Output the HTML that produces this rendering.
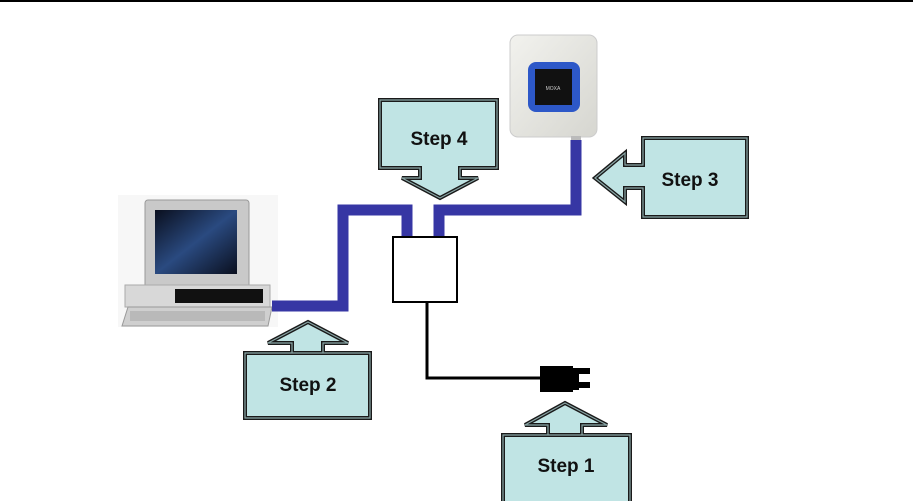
<!DOCTYPE html>
<html><head><meta charset="utf-8"><style>
body{margin:0;background:#fff;}
svg{display:block;}
text{font-family:"Liberation Sans",sans-serif;font-weight:bold;font-size:19px;fill:#111;}
</style></head><body>
<svg width="913" height="501" viewBox="0 0 913 501" xmlns="http://www.w3.org/2000/svg">
<defs>
<linearGradient id="scr" x1="0" y1="0" x2="1" y2="1">
<stop offset="0" stop-color="#0a0f1e"/><stop offset="0.5" stop-color="#2a4a80"/><stop offset="1" stop-color="#0a0f1e"/>
</linearGradient>
<linearGradient id="mx" x1="0" y1="0" x2="1" y2="1">
<stop offset="0" stop-color="#f2f2ee"/><stop offset="1" stop-color="#d6d6d0"/>
</linearGradient>
</defs>
<rect width="913" height="501" fill="#fff"/>
<line x1="0" y1="1" x2="913" y2="1" stroke="#000" stroke-width="2"/>

<!-- computer -->
<rect x="118" y="195" width="160" height="132" fill="#f7f7f7"/>
<rect x="145" y="200" width="104" height="88" rx="3" fill="#c9c9c9" stroke="#999"/>
<rect x="155" y="210" width="82" height="64" fill="url(#scr)"/>
<rect x="125" y="285" width="145" height="22" fill="#d8d8d8" stroke="#aaa"/>
<rect x="175" y="289" width="88" height="14" fill="#111"/>
<polygon points="128,307 272,307 268,326 122,326" fill="#cfcfcf" stroke="#999"/>
<rect x="130" y="311" width="135" height="10" fill="#aaa" opacity="0.6"/>

<!-- moxa -->
<rect x="510" y="35" width="87" height="102" rx="8" fill="url(#mx)" stroke="#ccc"/>
<rect x="528" y="62" width="52" height="50" rx="8" fill="#2d58c8"/>
<rect x="535" y="69" width="37" height="36" fill="#111"/>
<text x="553" y="90" text-anchor="middle" style="font-size:5px;fill:#ccc;font-weight:normal">MOXA</text>
<rect x="571" y="136" width="10" height="6" fill="#bbb"/>

<!-- blue cables -->
<g stroke="#3636a4" stroke-width="11" fill="none" stroke-linejoin="miter">
<polyline points="272,306 343,306 343,210 407,210 407,237"/>
<polyline points="439,237 439,210 576,210 576,140"/>
</g>

<!-- box -->
<rect x="393" y="237" width="64" height="65" fill="#fff" stroke="#000" stroke-width="2"/>
<polyline points="427,302 427,378 542,378" fill="none" stroke="#000" stroke-width="3"/>
<rect x="540" y="366" width="33" height="26" fill="#000"/>
<rect x="572" y="368" width="7" height="22" fill="#000"/>
<rect x="578" y="368" width="12" height="6" fill="#000"/>
<rect x="578" y="382" width="12" height="6" fill="#000"/>

<!-- callouts -->
<g fill="#c0e4e4" stroke="#1a1a1a" stroke-width="4" stroke-linejoin="miter">
<polygon points="380,100 497,100 497,168 460,168 460,178 478,178 440,198 402,178 420,178 420,168 380,168"/>
<polygon points="643,138 747,138 747,217 643,217 643,188 625,188 625,202 595,178 625,153 625,165 643,165"/>
<polygon points="245,353 370,353 370,418 245,418 245,353 292,353 292,343 268,343 308,322 348,343 323,343 323,353"/>
<polygon points="503,435 630,435 630,503 503,503 503,435 548,435 548,425 525,425 565,403 607,425 582,425 582,435"/>
</g>
<g fill="none" stroke="#8aa6a6" stroke-width="1.2">
<polygon points="380,100 497,100 497,168 460,168 460,178 478,178 440,198 402,178 420,178 420,168 380,168"/>
<polygon points="643,138 747,138 747,217 643,217 643,188 625,188 625,202 595,178 625,153 625,165 643,165"/>
<polygon points="245,353 370,353 370,418 245,418 245,353 292,353 292,343 268,343 308,322 348,343 323,343 323,353"/>
<polygon points="503,435 630,435 630,503 503,503 503,435 548,435 548,425 525,425 565,403 607,425 582,425 582,435"/>
</g>
<text x="439" y="145" text-anchor="middle">Step 4</text>
<text x="690" y="186" text-anchor="middle">Step 3</text>
<text x="308" y="391" text-anchor="middle">Step 2</text>
<text x="566" y="472" text-anchor="middle">Step 1</text>
</svg>
</body></html>
